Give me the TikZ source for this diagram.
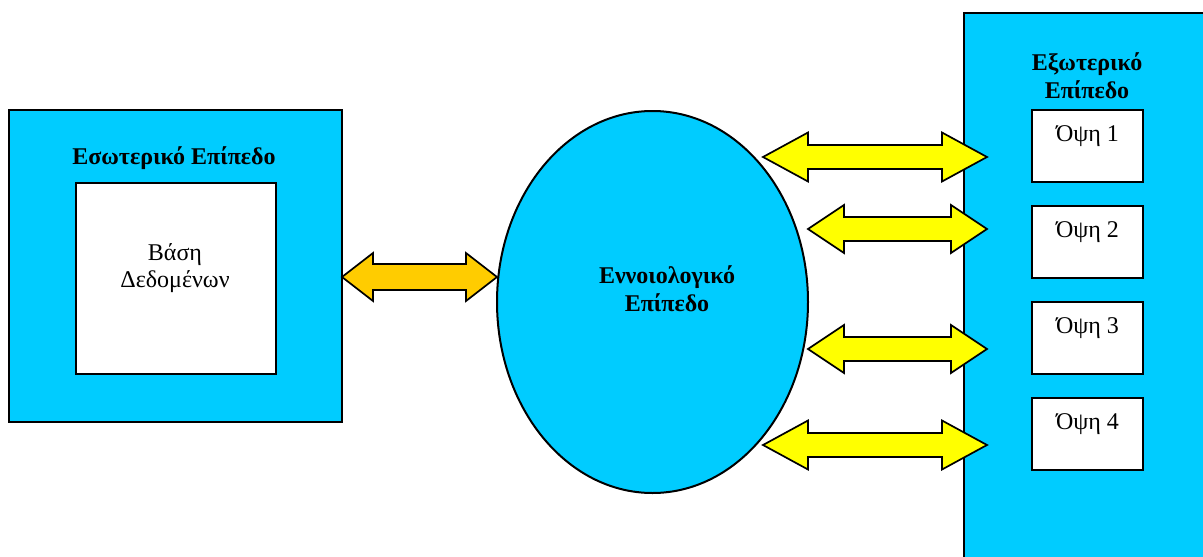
\documentclass[tikz,border=0pt]{standalone}
\usepackage{fontspec}
\setmainfont{Liberation Serif}
\usetikzlibrary{calc}
\definecolor{skyc}{RGB}{0,204,255}
\definecolor{yel}{RGB}{255,255,0}
\definecolor{orng}{RGB}{255,204,0}
\tikzset{
  panel/.style={draw=black, line width=2pt, fill=skyc},
  whitebox/.style={draw=black, line width=2pt, fill=white},
  blockarrow/.style={draw=black, line width=1.7pt, line join=miter},
  lbl/.style={font=\fontsize{24}{27}\selectfont, align=center, inner sep=0pt},
  blbl/.style={font=\fontsize{24}{28}\selectfont\bfseries, align=center, inner sep=0pt},
}
% \dblarrow{left tip}{right tip}{head length}{head half-width}{shaft half-width}{fill}
\newcommand{\dblarrow}[6]{%
  \filldraw[blockarrow, fill=#6]
    (#1) -- ($(#1)+(#3,-#4)$) -- ($(#1)+(#3,-#5)$) -- ($(#2)+(-#3,-#5)$)
    -- ($(#2)+(-#3,-#4)$) -- (#2) -- ($(#2)+(-#3,#4)$) -- ($(#2)+(-#3,#5)$)
    -- ($(#1)+(#3,#5)$) -- ($(#1)+(#3,#4)$) -- cycle;}
\begin{document}
\begin{tikzpicture}[x=1pt, y=-1pt]
\useasboundingbox (0,0) rectangle (1203,557);
\clip (0,0) rectangle (1203,557);
\fill[white] (0,0) rectangle (1203,557);

% left: internal level
\node[panel, minimum width=333pt, minimum height=312pt, anchor=north west, inner sep=0pt] (intl) at (8,109) {};
\node[whitebox, minimum width=200pt, minimum height=191pt, anchor=north west, inner sep=0pt] (db) at (75,182) {};
\node[blbl] (intltxt) at (174,158) {Εσωτερικό Επίπεδο};
\node[lbl] (dbtxt) at (175,268) {Βάση\\Δεδομένων};

% ellipse: conceptual level
\filldraw[panel] (652.5,302) ellipse [x radius=155.5, y radius=191];
\coordinate (conc) at (652.5,302);
\node[blbl] (conctxt) at (667,289) {Εννοιολογικό\\Επίπεδο};

% right: external level
\draw[panel] (964,13) rectangle (1215,575);
\coordinate (extl) at (964,13);
\node[blbl] (extltxt) at (1087,76) {Εξωτερικό\\Επίπεδο};
\foreach \i/\t in {1/109,2/205,3/301,4/397}{
  \node[whitebox, minimum width=111pt, minimum height=72pt, anchor=north west, inner sep=0pt] (v\i) at (1031,\t) {};
  \node[lbl, anchor=center] (v\i txt) at ($(v\i.north)+(0,27)$) {Όψη \i};
}

% arrows
\coordinate (a0l) at (342,277); \coordinate (a0r) at (497,277);
\coordinate (a1l) at (763,157); \coordinate (a1r) at (987,157);
\coordinate (a2l) at (808,229); \coordinate (a2r) at (987,229);
\coordinate (a3l) at (808,349); \coordinate (a3r) at (987,349);
\coordinate (a4l) at (763,445); \coordinate (a4r) at (987,445);
\dblarrow{a0l}{a0r}{31}{24}{13}{orng}
\dblarrow{a1l}{a1r}{45}{24.5}{12}{yel}
\dblarrow{a2l}{a2r}{36}{24}{12}{yel}
\dblarrow{a3l}{a3r}{36}{24}{12}{yel}
\dblarrow{a4l}{a4r}{45}{24.5}{12}{yel}
\end{tikzpicture}
\end{document}
